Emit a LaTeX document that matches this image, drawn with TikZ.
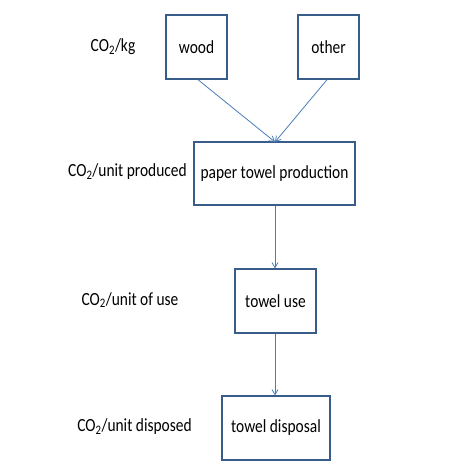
\documentclass[tikz,border=0pt]{standalone}
\usepackage{fontspec}
\setmainfont{Carlito}
\usetikzlibrary{arrows.meta}
\definecolor{boxline}{HTML}{385D8A}
\definecolor{arrowline}{HTML}{4A7EBB}
\newcommand{\tallt}[1]{\scalebox{1}[1.2]{#1}}
\begin{document}
\begin{tikzpicture}[x=1bp,y=-1bp,
  box/.style={draw=boxline,line width=1.3bp,inner sep=0pt,font=\fontsize{15.5}{18}\selectfont},
  lbl/.style={font=\fontsize{15.5}{18}\selectfont,inner sep=0pt},
  conn/.style={draw=arrowline,line width=0.8bp,-{Straight Barb[length=5bp,width=6bp]}}]
\useasboundingbox (0,0) rectangle (474,474);
\fill[white] (0,0) rectangle (474,474);
\node[box,minimum width=61bp,minimum height=64bp] (wood) at (196.5,47) {\tallt{wood}};
\node[box,minimum width=61bp,minimum height=64bp] (other) at (328.5,47) {\tallt{other}};
\node[box,minimum width=161bp,minimum height=63bp] (prod) at (274.5,173.5) {\tallt{paper towel production}};
\node[box,minimum width=81bp,minimum height=64bp] (use) at (275.5,301) {\tallt{towel use}};
\node[box,minimum width=108bp,minimum height=64bp] (disp) at (276,428) {\tallt{towel disposal}};
\node[lbl] (l1) at (113,47) {\tallt{CO\textsubscript{2}/kg}};
\node[lbl] (l2) at (127.5,172) {\tallt{CO\textsubscript{2}/unit produced}};
\node[lbl] (l3) at (130,300) {\tallt{CO\textsubscript{2}/unit of use}};
\node[lbl] (l4) at (134.5,427) {\tallt{CO\textsubscript{2}/unit disposed}};
\coordinate (ws) at (198,79.7);
\coordinate (os) at (327,79.7);
\coordinate (pt) at (275,142);
\draw[conn] (ws) -- (pt);
\draw[conn] (os) -- (pt);
\draw[conn] (prod.south -| pt) -- (use.north -| pt);
\draw[conn] (use.south -| pt) -- (disp.north -| pt);
\end{tikzpicture}
\end{document}
